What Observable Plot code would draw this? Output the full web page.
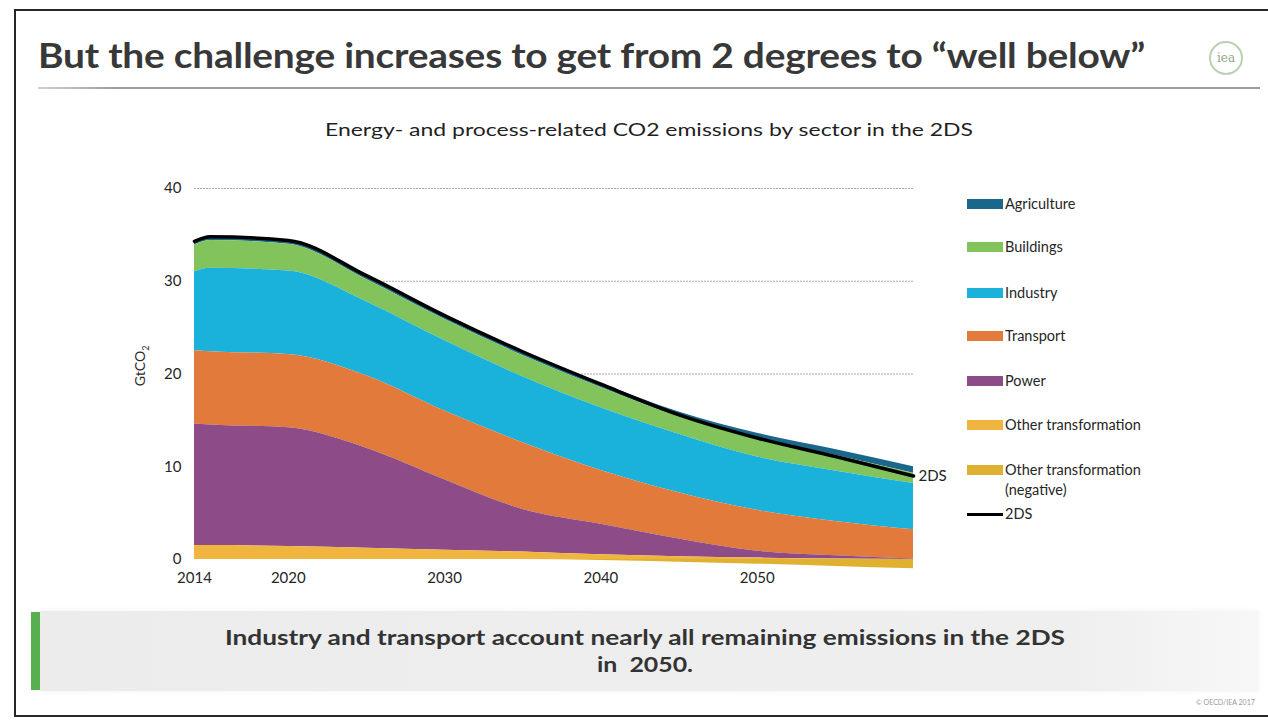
<!DOCTYPE html>
<html>
<head>
<meta charset="utf-8">
<script src="https://cdn.jsdelivr.net/npm/d3@7"></script>
<script src="https://cdn.jsdelivr.net/npm/@observablehq/plot@0.6"></script>
<style>
  html, body { margin: 0; padding: 0; background: #fff; }
  body { width: 1268px; height: 721px; overflow: hidden; position: relative; font-family: Lato, "Open Sans", sans-serif; color: #2b2b2b; }
  .abs { position: absolute; white-space: nowrap; transform-origin: 0 50%; }
  #frame { position: absolute; left: 14px; top: 9px; width: 1270px; height: 708px; border: 2px solid #262626; box-sizing: border-box; }
  #title { left: 38px; top: 36px; font-size: 34px; line-height: 38px; font-weight: 700; color: #383838; letter-spacing: -0.2px; }
  #rule { position: absolute; left: 38px; top: 87px; width: 1222px; height: 2px; background: linear-gradient(to right, #d0d0d0 0px, #9c9c9c 80px, #9c9c9c 100%); }
  #logo { position: absolute; left: 1209px; top: 41px; width: 30px; height: 30px; border: 2.5px solid #b9d1b2; border-radius: 50%; }
  #logo span { position: absolute; left: 0; right: 0; top: 8px; text-align: center; font-family: "DejaVu Serif", serif; font-size: 12px; color: #8fa58c; }
  #subtitle { top: 119px; font-size: 17px; line-height: 22px; color: #1f1f1f; }
  #chart { position: absolute; left: 0; top: 0; }
  #ylab { position: absolute; left: 118px; top: 356px; font-size: 14px; color: #2b2b2b; transform: rotate(-90deg); transform-origin: 50% 50%; width: 46px; text-align: center; }
  #ylab sub { font-size: 9px; }
  .leg { position: absolute; left: 967px; font-size: 14.5px; line-height: 20px; color: #262626; }
  .leg i { position: absolute; left: 0; top: 5px; width: 36px; height: 10px; }
  .leg b { font-weight: 400; position: absolute; left: 38px; top: 0; white-space: nowrap; }
  .leg.line i { top: 9px; height: 3px; background: #000; }
  #box { position: absolute; left: 40px; top: 611px; width: 1218px; height: 80px; background: linear-gradient(to right, #ececec 0%, #efefef 85%, #f7f7f7 100%); box-shadow: 0 0 6px rgba(0,0,0,0.06); }
  #bar { position: absolute; left: 31px; top: 612px; width: 9px; height: 78px; background: #56b04f; }
  .msg { font-weight: 700; font-size: 21px; line-height: 26px; color: #333; }
  #copy { left: 1196px; top: 698px; font-size: 7px; color: #9a9a9a; }
</style>
</head>
<body>
<div id="frame"></div>
<div id="title" class="abs" data-w="1107">But the challenge increases to get from 2 degrees to “well below”</div>
<div id="rule"></div>
<div id="logo"><span>iea</span></div>
<div id="subtitle" class="abs" data-w="648" data-cx="649">Energy- and process-related CO2 emissions by sector in the 2DS</div>
<div id="chart"></div>
<div id="ylab">GtCO<sub>2</sub></div>
<div id="legend"></div>
<div id="box"></div>
<div id="bar"></div>
<div class="abs msg" data-w="840" data-cx="645" style="top:624px">Industry and transport account nearly all remaining emissions in the 2DS</div>
<div class="abs msg" data-w="96" data-cx="645" style="top:651px">in&nbsp; 2050.</div>
<div id="copy" class="abs">© OECD/IEA 2017</div>

<script>
// Years of the 2DS pathway
const years = [2014, 2015, 2020, 2025, 2030, 2035, 2040, 2045, 2050, 2055, 2060];

// Emissions by sector, GtCO2
const agriculture = [0.4, 0.4, 0.4, 0.4, 0.4, 0.4, 0.45, 0.5, 0.55, 0.6, 0.7];
const buildings = [2.9, 3.0, 2.9, 2.4, 2.3, 2.3, 2.2, 1.9, 2.0, 1.7, 1.1];
const industry = [8.5, 9.0, 9.0, 8.0, 7.6, 7.1, 6.75, 6.3, 5.75, 5.45, 5.0];
const transport = [7.9, 7.9, 7.9, 7.8, 7.4, 7.2, 5.8, 5.0, 4.4, 3.7, 3.15];
const power = [13.1, 13.0, 12.8, 10.8, 7.6, 4.6, 3.3, 1.9, 0.75, 0.35, 0.05];
const otherTransformation = [1.5, 1.5, 1.4, 1.2, 1.0, 0.8, 0.5, 0.3, 0.15, 0.05, 0];
const otherTransformationNeg = [0, 0, 0, 0, 0, 0, -0.1, -0.3, -0.5, -0.75, -1.0];

// Net total of the 2DS
const twoDS = [34.3, 34.8, 34.4, 30.6, 26.3, 22.4, 18.9, 15.6, 13.1, 11.1, 9.0];

const sectors = ["Agriculture", "Buildings", "Industry", "Transport", "Power", "Other transformation", "Other transformation (negative)"];
const sectorColors = ["#1b678c", "#82c35c", "#1ab2da", "#e17a3b", "#8d4b87", "#efb53e", "#e0b130"];
const legendLabels = ["Agriculture", "Buildings", "Industry", "Transport", "Power", "Other transformation", "Other transformation<br>(negative)"];

const xTicks = [2014, 2020, 2030, 2040, 2050];
const yTicks = [0, 10, 20, 30, 40];
const gridValues = [20, 30, 40];

const seriesBySector = [agriculture, buildings, industry, transport, power, otherTransformation, otherTransformationNeg];
const rows = sectors.flatMap((s, k) => years.map((yr, i) => ({year: yr, sector: s, value: seriesBySector[k][i]})));
const totalRows = years.map((yr, i) => ({year: yr, value: twoDS[i]}));

// Stacking order from the baseline outwards; the negative series comes first
// so its zero years sit on the baseline rather than on top of the stack.
const stackOrder = ["Other transformation (negative)", "Other transformation", "Power", "Transport", "Industry", "Buildings", "Agriculture"];

const chart = Plot.plot({
  width: 1268,
  height: 721,
  marginLeft: 194,
  marginRight: 355,
  marginTop: 188,
  marginBottom: 162,
  style: {background: "transparent", fontFamily: "Lato, 'Open Sans', sans-serif", fontSize: "15px", color: "#262626"},
  x: {domain: [2014, 2060], ticks: xTicks, tickFormat: d => String(d), tickSize: 0, tickPadding: 13, label: null},
  y: {domain: [0, 40], ticks: yTicks, tickSize: 0, tickPadding: 13, label: null},
  color: {domain: sectors, range: sectorColors},
  marks: [
    Plot.ruleY(gridValues, {stroke: "#a8a8a8", strokeWidth: 1, strokeDasharray: "2,1"}),
    Plot.areaY(rows, {x: "year", y: "value", fill: "sector", order: stackOrder, curve: "monotone-x"}),
    Plot.lineY(totalRows, {x: "year", y: "value", stroke: "#000", strokeWidth: 3.5, curve: "monotone-x"}),
    Plot.text(totalRows.slice(-1), {x: "year", y: "value", text: () => "2DS", textAnchor: "start", dx: 5, fontSize: 15, fill: "#222"})
  ]
});
document.getElementById("chart").appendChild(chart);

// Legend
const legendTops = [194, 237, 283, 326, 371, 415, 460];
const legend = document.getElementById("legend");
sectors.forEach((s, k) => {
  const d = document.createElement("div");
  d.className = "leg";
  d.style.top = legendTops[k] + "px";
  d.innerHTML = `<i style="background:${sectorColors[k]}"></i><b>${legendLabels[k]}</b>`;
  legend.appendChild(d);
});
const lineEntry = document.createElement("div");
lineEntry.className = "leg line";
lineEntry.style.top = "504px";
lineEntry.innerHTML = `<i></i><b>2DS</b>`;
legend.appendChild(lineEntry);

// Stretch text blocks to their set widths
document.querySelectorAll("[data-w]").forEach(el => {
  const w = +el.dataset.w;
  const m = el.getBoundingClientRect().width;
  if (el.dataset.cx) el.style.left = (+el.dataset.cx - w / 2) + "px";
  el.style.transform = `scaleX(${w / m})`;
});
</script>
</body>
</html>
